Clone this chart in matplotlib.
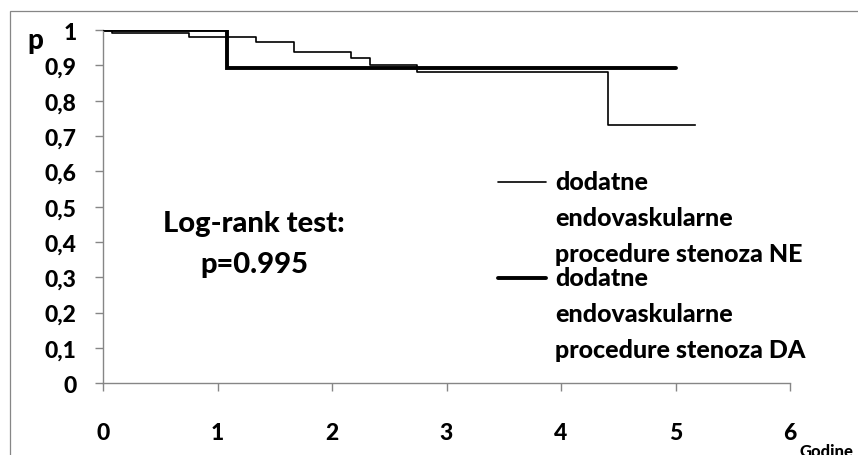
import matplotlib
matplotlib.use("Agg")
import matplotlib.pyplot as plt
from matplotlib.lines import Line2D
from matplotlib.patches import Rectangle

# ---- data ----
x_ticks = [0, 1, 2, 3, 4, 5, 6]
y_ticks = [0, 0.1, 0.2, 0.3, 0.4, 0.5, 0.6, 0.7, 0.8, 0.9, 1.0]
y_tick_labels = ["0", "0,1", "0,2", "0,3", "0,4", "0,5", "0,6", "0,7", "0,8", "0,9", "1"]

ne_times = [0, 0.08, 0.75, 1.34, 1.67, 2.17, 2.33, 2.74, 4.41, 5.17]
ne_surv = [1.0, 0.991, 0.979, 0.967, 0.937, 0.920, 0.902, 0.880, 0.731, 0.731]

da_times = [0, 1.08, 5.0]
da_surv = [1.0, 0.892, 0.892]

legend_labels = ["dodatne\nendovaskularne\nprocedure stenoza NE",
                 "dodatne\nendovaskularne\nprocedure stenoza DA"]
test_lines = ["Log-rank test:", "p=0.995"]
x_label = "Godine"
y_label = "p"

# ---- figure ----
W, H = 858, 456
fig = plt.figure(figsize=(W / 100, H / 100), dpi=100)
FONT = "Lato"
WT = "black"
GRAY = "#868686"

def fx(px):
    return px / W

def fy(py):
    return 1 - py / H

ax = fig.add_axes([fx(103), fy(384.3), fx(790) - fx(103), fy(31) - fy(384.3)])
ax.set_xlim(0, 6)
ax.set_ylim(0, 1)

ax.step(ne_times, ne_surv, where="post", color="black", lw=1.2, zorder=3)
ax.step(da_times, da_surv, where="post", color="black", lw=2.8,
        solid_capstyle="round", solid_joinstyle="miter", zorder=2)

for s in ["top", "right"]:
    ax.spines[s].set_visible(False)
for s in ["left", "bottom"]:
    ax.spines[s].set_color(GRAY)
    ax.spines[s].set_linewidth(1.0)

ax.set_xticks(x_ticks)
ax.set_xticklabels([str(t) for t in x_ticks], fontsize=16.5, fontweight=WT, family=FONT)
ax.set_yticks(y_ticks)
ax.set_yticklabels(y_tick_labels, fontsize=16.5, fontweight=WT, family=FONT)
ax.tick_params(axis="both", direction="out", length=6, width=1.0, color=GRAY)
ax.tick_params(axis="y", pad=13)
ax.tick_params(axis="x", pad=22)
ax.patch.set_alpha(0)

# axis labels
fig.text(fx(35), fy(41), y_label, fontsize=20, fontweight=WT, family=FONT,
         ha="center", va="center")
fig.text(fx(800), fy(452), x_label, fontsize=12, fontweight=WT, family=FONT,
         ha="left", va="center")

# log-rank text
for i, line in enumerate(test_lines):
    fig.text(fx(254), fy(224 + 41 * i), line, fontsize=21, fontweight=WT,
             family=FONT, ha="center", va="center")

# legend (manual)
leg_rows = [183, 279]
leg_widths = [1.2, 2.8]
for yy, lw, lab in zip(leg_rows, leg_widths, legend_labels):
    fig.add_artist(Line2D([fx(498), fx(546)], [fy(yy), fy(yy)], color="black",
                          lw=lw, solid_capstyle="round"))
    for j, part in enumerate(lab.split("\n")):
        fig.text(fx(555), fy(yy + 36 * j), part, fontsize=18, fontweight=WT,
                 family=FONT, ha="left", va="center")

# outer chart border
fig.add_artist(Rectangle((fx(10), fy(470)), fx(900) - fx(10), fy(12) - fy(470),
                         fill=False, edgecolor=GRAY, lw=0.9, transform=fig.transFigure))

fig.savefig("out.png", dpi=100)
